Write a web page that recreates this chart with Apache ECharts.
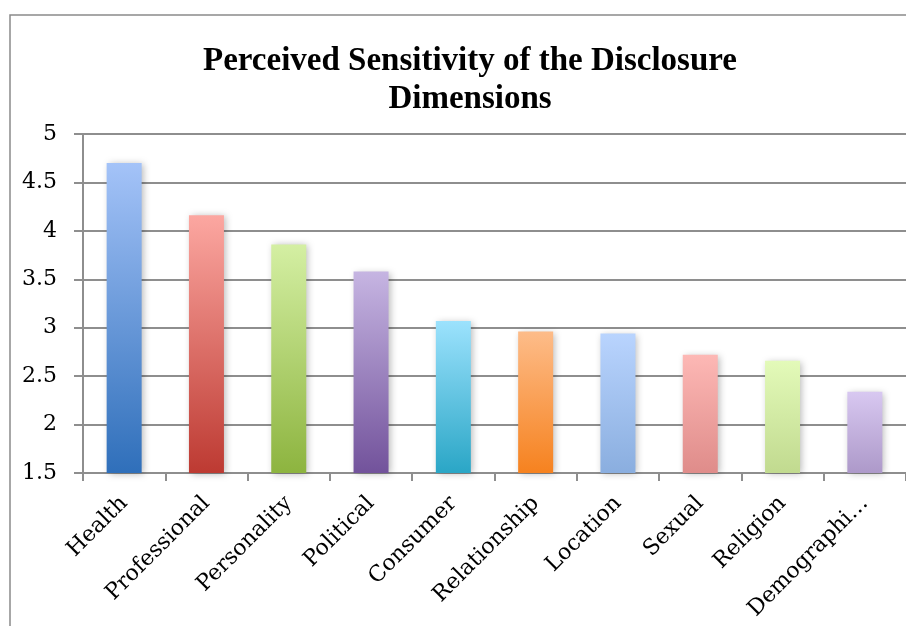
<!DOCTYPE html>
<html>
<head>
<meta charset="utf-8">
<style>
  html, body { margin: 0; padding: 0; background: #fff; }
  #chart { width: 906px; height: 626px; }
</style>
<script src="https://cdn.jsdelivr.net/npm/echarts@6/dist/echarts.min.js"></script>
</head>
<body>
<div id="chart"></div>
<script>
// Disclosure dimensions and their mean perceived sensitivity
const categories = ['Health', 'Professional', 'Personality', 'Political', 'Consumer',
                    'Relationship', 'Location', 'Sexual', 'Religion', 'Demographi…'];
const sensitivity = [4.70, 4.16, 3.86, 3.58, 3.07, 2.96, 2.94, 2.72, 2.66, 2.34];

// Per-bar gradient: light tone at the top, deeper tone at the base
const topColors    = ['#a4c3f8', '#fca7a1', '#d4efa3', '#c6b5e2', '#9ce2fd',
                      '#fdbc89', '#b9d4fe', '#fdb8b5', '#e3fab9', '#d8c8f1'];
const bottomColors = ['#2f6fba', '#bd3a32', '#8db43f', '#72529b', '#2aa6c6',
                      '#f6821f', '#8aaedf', '#df8c8a', '#c1da8f', '#ad99c9'];

const gridColor = '#8e8e8e';
const labelFont = '"DejaVu Serif", serif';

const chart = echarts.init(document.getElementById('chart'), null, { renderer: 'canvas' });

chart.setOption({
  animation: false,
  backgroundColor: '#fff',
  graphic: [{
    // outer chart frame (only the top and left edges fall inside the page)
    type: 'rect',
    silent: true,
    shape: { x: 10, y: 15, width: 1200, height: 1200 },
    style: { fill: 'none', stroke: '#8a8a8a', lineWidth: 1.5 }
  }],
  title: {
    text: 'Perceived Sensitivity of the Disclosure\nDimensions',
    left: 465,
    top: 37,
    textAlign: 'center',
    textStyle: {
      fontFamily: '"Liberation Serif", serif',
      fontWeight: 'bold',
      fontSize: 33,
      lineHeight: 38,
      color: '#000'
    }
  },
  grid: { left: 83, top: 134, width: 832, height: 339, containLabel: false },
  xAxis: {
    type: 'category',
    data: categories,
    axisLine: { show: true, lineStyle: { color: gridColor, width: 2 } },
    axisTick: { show: true, alignWithLabel: false, length: 8, lineStyle: { color: gridColor, width: 2 } },
    axisLabel: {
      rotate: 45,
      interval: 0,
      margin: 27,
      fontFamily: labelFont,
      fontSize: 22,
      color: '#000'
    }
  },
  yAxis: {
    type: 'value',
    min: 1.5,
    max: 5,
    interval: 0.5,
    axisLine: { show: true, lineStyle: { color: gridColor, width: 2 } },
    axisTick: { show: true, length: 9, lineStyle: { color: gridColor, width: 2 } },
    splitLine: { show: true, lineStyle: { color: gridColor, width: 2 } },
    axisLabel: {
      margin: 26,
      fontFamily: labelFont,
      fontSize: 22,
      color: '#000'
    }
  },
  series: [{
    type: 'bar',
    barWidth: 35,
    data: sensitivity.map((v, i) => ({
      value: v,
      itemStyle: {
        color: new echarts.graphic.LinearGradient(0, 0, 0, 1, [
          { offset: 0, color: topColors[i] },
          { offset: 1, color: bottomColors[i] }
        ]),
        shadowColor: 'rgba(0,0,0,0.28)',
        shadowBlur: 7,
        shadowOffsetX: 2,
        shadowOffsetY: 1
      }
    }))
  }]
});
</script>
</body>
</html>
